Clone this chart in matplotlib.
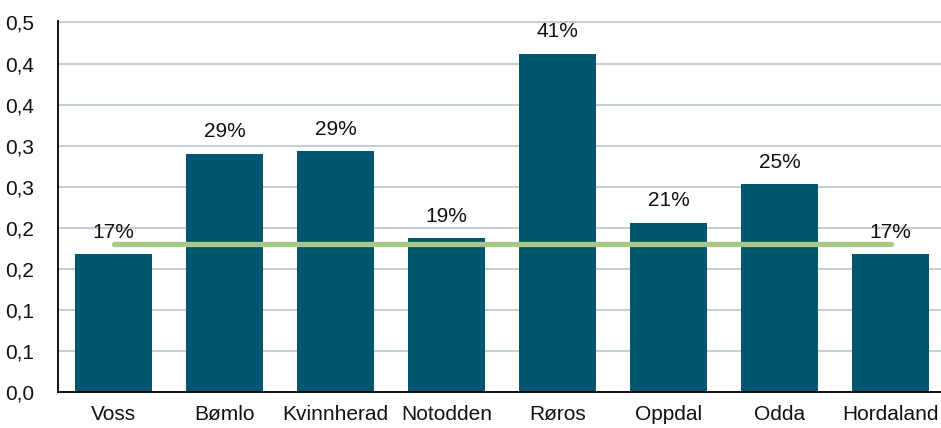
import matplotlib
matplotlib.use("Agg")
import matplotlib.pyplot as plt

plt.rcParams['font.family'] = ['Liberation Sans', 'DejaVu Sans']

categories = ["Voss", "Bømlo", "Kvinnherad", "Notodden", "Røros", "Oppdal", "Odda", "Hordaland"]
values = [0.168, 0.290, 0.293, 0.187, 0.412, 0.206, 0.253, 0.168]
average = 0.180
ytick_values = [0.0, 0.05, 0.10, 0.15, 0.20, 0.25, 0.30, 0.35, 0.40, 0.45]
ytick_labels = ["0,0", "0,1", "0,1", "0,2", "0,2", "0,3", "0,3", "0,4", "0,4", "0,5"]

W, H = 941, 428
fig = plt.figure(figsize=(W / 100, H / 100), dpi=100)
ymax = 0.4515
px_per_unit = (392 - 22.5) / 0.45
ax = fig.add_axes([58 / W, 1 - 392 / H, (946 - 58) / W, (ymax * px_per_unit) / H])

x = list(range(len(categories)))
ax.bar(x, values, width=0.69, color="#02566F", zorder=2)

for xi, v in zip(x, values):
    ax.annotate(f"{round(v * 100)}%", (xi, v), xytext=(0, 9), textcoords="offset points",
                ha="center", va="bottom", fontsize=15, color="#111111", zorder=4)

ax.plot([x[0], x[-1]], [average, average], color="#A9C787", linewidth=3.8,
        solid_capstyle="round", zorder=3)

ax.set_xlim(-0.5, len(categories) - 0.5)
ax.set_ylim(0, ymax)
ax.set_yticks(ytick_values)
ax.set_yticklabels(ytick_labels)
ax.set_xticks(x)
ax.set_xticklabels(categories)
ax.tick_params(axis="both", length=0, labelsize=15, colors="#111111")
ax.tick_params(axis="y", pad=17)
ax.tick_params(axis="x", pad=9)

ax.yaxis.grid(True, color="#C5CED6", linewidth=1.5, zorder=0)
ax.set_axisbelow(True)
for s in ["top", "right"]:
    ax.spines[s].set_visible(False)
for s in ["left", "bottom"]:
    ax.spines[s].set_color("#000000")
    ax.spines[s].set_linewidth(1.3)

fig.savefig("out.png", dpi=100)
